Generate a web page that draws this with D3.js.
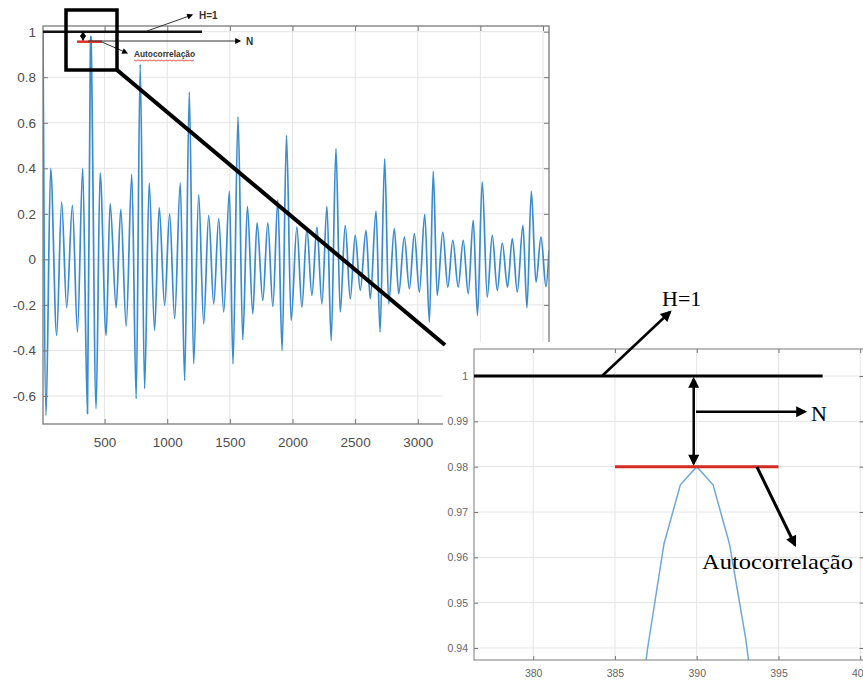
<!DOCTYPE html>
<html>
<head>
<meta charset="utf-8">
<script src="https://cdn.jsdelivr.net/npm/d3@7"></script>
<style>
body { margin: 0; background: #fff; }
svg { display: block; font-family: Arial, "Liberation Sans", sans-serif; }
</style>
</head>
<body>
<div id="container"></div>
<script>
const WIDTH = 863;
const HEIGHT = 681;

// autocorrelation: lag of each peak / trough,
// plus the single samples around lag 390
const lags = [
    8, 32, 69, 117, 157, 197, 243, 283, 325, 363,
    386, 387, 388, 389, 390, 391, 392, 393, 394,
    432, 464, 512, 544, 592, 629, 672, 717, 752, 784,
    819, 856, 899, 936, 979, 1019, 1059, 1104, 1139, 1176,
    1211, 1251, 1291, 1331, 1371, 1411, 1451, 1496, 1525, 1565,
    1603, 1640, 1683, 1717, 1763, 1803, 1843, 1883, 1917, 1952,
    1989, 2035, 2075, 2115, 2155, 2195, 2235, 2275, 2309, 2347,
    2381, 2421, 2461, 2501, 2541, 2587, 2621, 2667, 2699, 2736,
    2768, 2813, 2848, 2893, 2933, 2973, 3013, 3056, 3093, 3124,
    3155, 3200, 3240, 3280, 3323, 3363, 3403, 3443, 3477, 3515,
    3555, 3595, 3635, 3675, 3717, 3755, 3795, 3840, 3872, 3907,
    3944, 3984, 4024, 4048
];
const values = [
    1.00, -0.686, 0.40, -0.334, 0.252, -0.212, 0.237, -0.32, 0.40, -0.678,
    0.913, 0.940, 0.963, 0.976, 0.980, 0.976, 0.963, 0.942, 0.914,
    -0.656, 0.38, -0.334, 0.245, -0.212, 0.22, -0.294, 0.374, -0.612, 0.857,
    -0.568, 0.335, -0.312, 0.227, -0.202, 0.20, -0.26, 0.335, -0.532, 0.735,
    -0.459, 0.284, -0.283, 0.193, -0.195, 0.179, -0.231, 0.30, -0.459, 0.626,
    -0.353, 0.233, -0.239, 0.16, -0.18, 0.16, -0.207, 0.262, -0.40, 0.545,
    -0.268, 0.142, -0.21, 0.135, -0.158, 0.142, -0.195, 0.233, -0.356, 0.486,
    -0.231, 0.149, -0.173, 0.105, -0.136, 0.127, -0.173, 0.212, -0.319, 0.442,
    -0.195, 0.135, -0.151, 0.098, -0.129, 0.113, -0.144, 0.198, -0.275, 0.387,
    -0.158, 0.12, -0.122, 0.084, -0.122, 0.084, -0.151, 0.171, -0.246, 0.34,
    -0.166, 0.105, -0.136, 0.072, -0.122, 0.091, -0.144, 0.149, -0.212, 0.30,
    -0.10, 0.098, -0.12, 0.04
];

const mainXTicks = [500, 1000, 1500, 2000, 2500, 3000, 3500, 4000];
const mainYTicks = [-0.6, -0.4, -0.2, 0, 0.2, 0.4, 0.6, 0.8, 1];
const insetXTicks = [380, 385, 390, 395, 400];
const insetYTicks = [0.94, 0.95, 0.96, 0.97, 0.98, 0.99, 1];

const H_LEVEL = 1;        // reference line H=1
const PEAK_LEVEL = 0.98;  // autocorrelation peak value
const PEAK_LAG = 390;

const DATA = lags.map(function (l, i) { return {x: l, y: values[i]}; });

const SVG = d3.select("#container").append("svg")
    .attr("width", WIDTH)
    .attr("height", HEIGHT);

SVG.append("rect").attr("width", WIDTH).attr("height", HEIGHT).attr("fill", "#fff");

const defs = SVG.append("defs");
var addMarker = function (id, w, h) {
    defs.append("marker")
        .attr("id", id)
        .attr("viewBox", "0 0 10 10")
        .attr("refX", 8).attr("refY", 5)
        .attr("markerWidth", w).attr("markerHeight", h)
        .attr("markerUnits", "userSpaceOnUse")
        .attr("orient", "auto-start-reverse")
        .append("path").attr("d", "M0,0L10,5L0,10z").attr("fill", "#000");
};
addMarker("big", 13, 11);
addMarker("small", 7, 6);

var styleAxis = function (g, size, color) {
    g.select(".domain").remove();
    g.selectAll(".tick line").attr("stroke", "#777").attr("stroke-width", 1);
    g.selectAll(".tick text").attr("fill", color).style("font-size", size + "px")
        .attr("font-family", "Arial, 'Liberation Sans', sans-serif");
};

// white plot area with light grid
var drawFrame = function (g, x, y, xt, yt) {
    var x0 = x.range()[0], x1 = x.range()[1];
    var y0 = y.range()[0], y1 = y.range()[1];
    g.append("rect").attr("x", x0).attr("y", y1).attr("width", x1 - x0).attr("height", y0 - y1)
        .attr("fill", "#fff");
    var grid = g.append("g").attr("stroke", "#e4e4e4").attr("stroke-width", 1);
    grid.selectAll(".gx").data(xt).join("line")
        .attr("x1", d => x(d)).attr("x2", d => x(d)).attr("y1", y0).attr("y2", y1);
    grid.selectAll(".gy").data(yt).join("line")
        .attr("y1", d => y(d)).attr("y2", d => y(d)).attr("x1", x0).attr("x2", x1);
};

// MATLAB-like box: ticks inward on all four sides
var drawAxes = function (g, x, y, xt, yt, opts) {
    var x0 = x.range()[0], x1 = x.range()[1];
    var y0 = y.range()[0], y1 = y.range()[1];
    var fmt = d => String(d);
    styleAxis(g.append("g").attr("transform", "translate(0," + y0 + ")")
        .call(d3.axisBottom(x).tickValues(xt).tickFormat(fmt).tickSizeInner(-opts.tick).tickSizeOuter(0).tickPadding(opts.padX)),
        opts.font, opts.color);
    styleAxis(g.append("g").attr("transform", "translate(0," + y1 + ")")
        .call(d3.axisTop(x).tickValues(xt).tickFormat("").tickSizeInner(-opts.tick).tickSizeOuter(0)),
        opts.font, opts.color);
    styleAxis(g.append("g").attr("transform", "translate(" + x0 + ",0)")
        .call(d3.axisLeft(y).tickValues(yt).tickFormat(fmt).tickSizeInner(-opts.tick).tickSizeOuter(0).tickPadding(opts.padY)),
        opts.font, opts.color);
    styleAxis(g.append("g").attr("transform", "translate(" + x1 + ",0)")
        .call(d3.axisRight(y).tickValues(yt).tickFormat("").tickSizeInner(-opts.tick).tickSizeOuter(0)),
        opts.font, opts.color);
    g.append("rect").attr("x", x0).attr("y", y1).attr("width", x1 - x0).attr("height", y0 - y1)
        .attr("fill", "none").attr("stroke", "#7a7a7a").attr("stroke-width", opts.border);
};

// ---------- main plot ----------
const XScale = d3.scaleLinear().domain([8, 4048]).range([43, 549]);
const YScale = d3.scaleLinear().domain([-0.723, 1.025]).range([424, 26]);

const main = SVG.append("g");
drawFrame(main, XScale, YScale, mainXTicks, mainYTicks);

defs.append("clipPath").attr("id", "clipMain").append("rect")
    .attr("x", 43).attr("y", 26).attr("width", 506).attr("height", 398);

main.append("path")
    .datum(DATA)
    .attr("clip-path", "url(#clipMain)")
    .attr("fill", "none")
    .attr("stroke", "#3a8bcf")
    .attr("stroke-width", 1.7)
    .attr("stroke-linejoin", "round")
    .attr("d", d3.line().x(d => XScale(d.x)).y(d => YScale(d.y)).curve(d3.curveMonotoneX));

drawAxes(main, XScale, YScale, mainXTicks, mainYTicks,
    {tick: 5, padX: 13, padY: 7, font: 13.5, color: "#4d4d4d", border: 1.3});

// small annotations inside the main plot
const ann = SVG.append("g");
ann.append("line").attr("x1", XScale.range()[0]).attr("x2", 202)
    .attr("y1", YScale(H_LEVEL)).attr("y2", YScale(H_LEVEL))
    .attr("stroke", "#111").attr("stroke-width", 2.5);
ann.append("line").attr("x1", 77).attr("x2", 102).attr("y1", 41.7).attr("y2", 41.7)
    .attr("stroke", "#e0302a").attr("stroke-width", 2.5);
ann.append("line").attr("x1", 147).attr("y1", 31).attr("x2", 192).attr("y2", 15)
    .attr("stroke", "#333").attr("stroke-width", 1).attr("marker-end", "url(#small)");
ann.append("text").attr("x", 199).attr("y", 19).text("H=1")
    .attr("font-weight", "bold").style("font-size", "10px").attr("fill", "#333");
ann.append("line").attr("x1", 88).attr("y1", 41).attr("x2", 240).attr("y2", 41)
    .attr("stroke", "#333").attr("stroke-width", 1).attr("marker-end", "url(#small)");
ann.append("text").attr("x", 246).attr("y", 45).text("N")
    .attr("font-weight", "bold").style("font-size", "10px").attr("fill", "#333");
ann.append("line").attr("x1", 83).attr("y1", 32).attr("x2", 83).attr("y2", 40)
    .attr("stroke", "#333").attr("stroke-width", 1)
    .attr("marker-start", "url(#small)").attr("marker-end", "url(#small)");
ann.append("line").attr("x1", 102).attr("y1", 42).attr("x2", 127).attr("y2", 53)
    .attr("stroke", "#333").attr("stroke-width", 1).attr("marker-end", "url(#small)");
ann.append("text").attr("x", 134).attr("y", 57).text("Autocorrelação")
    .attr("font-weight", "bold").style("font-size", "9.5px").attr("fill", "#333")
    .attr("textLength", 61).attr("lengthAdjust", "spacingAndGlyphs");
ann.append("path").attr("d", d3.range(134, 196, 2).map((v, i) => (i ? "L" : "M") + v + "," + (60 + (i % 2))).join(""))
    .attr("fill", "none").attr("stroke", "#e0302a").attr("stroke-width", 0.8);

// zoom box
ann.append("rect").attr("x", 66).attr("y", 10).attr("width", 51).attr("height", 60)
    .attr("fill", "none").attr("stroke", "#000").attr("stroke-width", 3.5);

// white area of the pasted zoom image
SVG.append("rect").attr("x", 443).attr("y", 342).attr("width", WIDTH - 443).attr("height", HEIGHT - 342)
    .attr("fill", "#fff");

SVG.append("line").attr("x1", 117).attr("y1", 70).attr("x2", 445).attr("y2", 345)
    .attr("stroke", "#000").attr("stroke-width", 4);

// ---------- inset (zoom around lag 390) ----------
const XInset = d3.scaleLinear().domain([376.38, 400.2]).range([474, 863.5]);
const YInset = d3.scaleLinear().domain([0.93735, 1.00596]).range([660, 349]);

const inset = SVG.append("g");
drawFrame(inset, XInset, YInset, insetXTicks, insetYTicks);

defs.append("clipPath").attr("id", "clipInset").append("rect")
    .attr("x", 474).attr("y", 349).attr("width", 390).attr("height", 311);

inset.append("path")
    .datum(DATA.filter(d => d.x >= 370 && d.x <= 410))
    .attr("clip-path", "url(#clipInset)")
    .attr("fill", "none")
    .attr("stroke", "#6ea8dc")
    .attr("stroke-width", 1.5)
    .attr("d", d3.line().x(d => XInset(d.x)).y(d => YInset(d.y)));

drawAxes(inset, XInset, YInset, insetXTicks, insetYTicks,
    {tick: 4, padX: 10, padY: 6, font: 10.5, color: "#666", border: 1});

// inset annotations
const big = SVG.append("g").attr("font-family", "'Liberation Serif', 'DejaVu Serif', serif");
big.append("line").attr("x1", XInset.range()[0]).attr("x2", XInset(397.7))
    .attr("y1", YInset(H_LEVEL)).attr("y2", YInset(H_LEVEL))
    .attr("stroke", "#000").attr("stroke-width", 3);
big.append("line").attr("x1", XInset(385)).attr("x2", XInset(395))
    .attr("y1", YInset(PEAK_LEVEL)).attr("y2", YInset(PEAK_LEVEL))
    .attr("stroke", "#d42a22").attr("stroke-width", 3);
big.append("line").attr("x1", XInset(PEAK_LAG) - 3).attr("x2", XInset(PEAK_LAG) - 3)
    .attr("y1", YInset(H_LEVEL) + 3).attr("y2", YInset(PEAK_LEVEL) - 3)
    .attr("stroke", "#000").attr("stroke-width", 2.5)
    .attr("marker-start", "url(#big)").attr("marker-end", "url(#big)");
big.append("line").attr("x1", 696).attr("y1", 411.7).attr("x2", 805).attr("y2", 411.7)
    .attr("stroke", "#000").attr("stroke-width", 2.5).attr("marker-end", "url(#big)");
big.append("text").attr("x", 811).attr("y", 421).text("N").style("font-size", "22px").attr("fill", "#000");
big.append("line").attr("x1", 602).attr("y1", 376).attr("x2", 670).attr("y2", 312)
    .attr("stroke", "#000").attr("stroke-width", 2.5).attr("marker-end", "url(#big)");
big.append("text").attr("x", 662).attr("y", 306).text("H=1").style("font-size", "22px").attr("fill", "#000");
big.append("line").attr("x1", 757).attr("y1", 467).attr("x2", 795).attr("y2", 545)
    .attr("stroke", "#000").attr("stroke-width", 3).attr("marker-end", "url(#big)");
big.append("text").attr("x", 702).attr("y", 569).text("Autocorrelação").style("font-size", "22px").attr("fill", "#000")
    .attr("textLength", 151).attr("lengthAdjust", "spacingAndGlyphs");
</script>
</body>
</html>
